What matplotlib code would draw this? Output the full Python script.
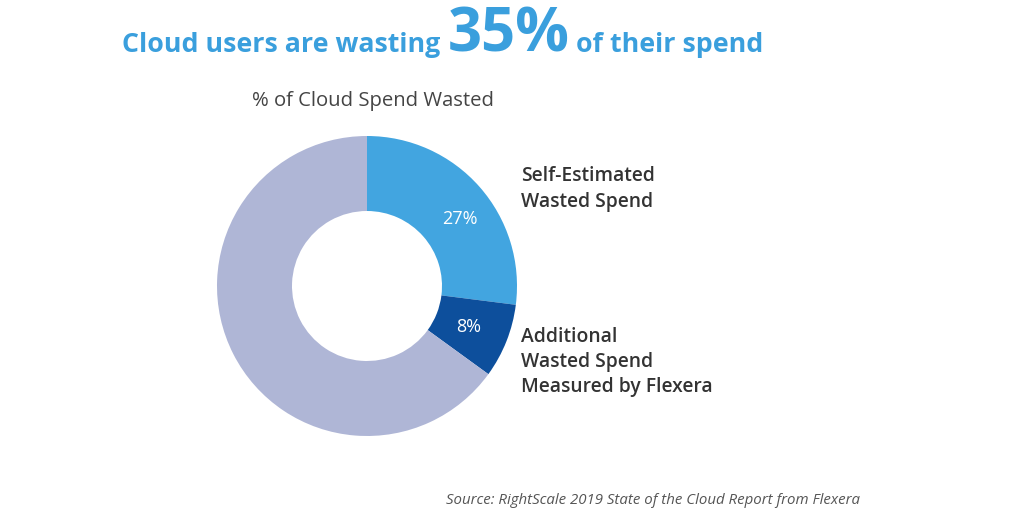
import matplotlib
matplotlib.use("Agg")
import matplotlib.pyplot as plt

labels = ["Self-Estimated\nWasted Spend", "Additional\nWasted Spend\nMeasured by Flexera", ""]
values = [27, 8, 65]
pct_labels = ["27%", "8%", ""]
colors = ["#42A5E0", "#0D4F9C", "#AFB6D6"]

plt.rcParams["font.family"] = ["Open Sans", "DejaVu Sans"]

fig = plt.figure(figsize=(10.24, 5.12), dpi=100)
fig.patch.set_facecolor("white")

# donut
ax = fig.add_axes([217 / 1024, 76 / 512, 300 / 1024, 300 / 512])
wedges, _ = ax.pie(values, colors=colors, startangle=90, counterclock=False,
                   radius=1, wedgeprops=dict(width=0.5, edgecolor="white", linewidth=0))
ax.set_xlim(-1, 1)
ax.set_ylim(-1, 1)
ax.set_aspect("equal")

# percentage labels inside ring
ax.text(0.62, 0.45, pct_labels[0], color="white", fontsize=13, ha="center", va="center")
ax.text(0.68, -0.27, pct_labels[1], color="white", fontsize=13, ha="center", va="center")

# side labels
fig.text(521 / 1024, 1 - 189 / 512, labels[0], fontsize=13.9, color="#333333",
         fontweight="semibold", va="center", ha="left", linespacing=1.35)
fig.text(521 / 1024, 1 - 362 / 512, labels[1], fontsize=13.9, color="#333333",
         fontweight="semibold", va="center", ha="left", linespacing=1.35)

fig.text(252 / 1024, 1 - 101 / 512, "% of Cloud Spend Wasted", fontsize=14.6,
         color="#444444", va="center", ha="left")

# title, pieced together
fig.canvas.draw()
r = fig.canvas.get_renderer()
x = 122
base = 1 - 52 / 512
for s, size in [("Cloud users are wasting ", 19.3), ("35%", 43), (" of their spend", 19.3)]:
    t = fig.text(x / 1024, base, s, fontsize=size, color="#3A9FDD",
                 fontweight="bold", va="baseline", ha="left")
    x += t.get_window_extent(r).width

fig.text(860 / 1024, 1 - 500 / 512, "Source: RightScale 2019 State of the Cloud Report from Flexera",
         fontsize=10.8, color="#555555", style="italic", ha="right", va="center")

fig.savefig("out.png", dpi=100)
